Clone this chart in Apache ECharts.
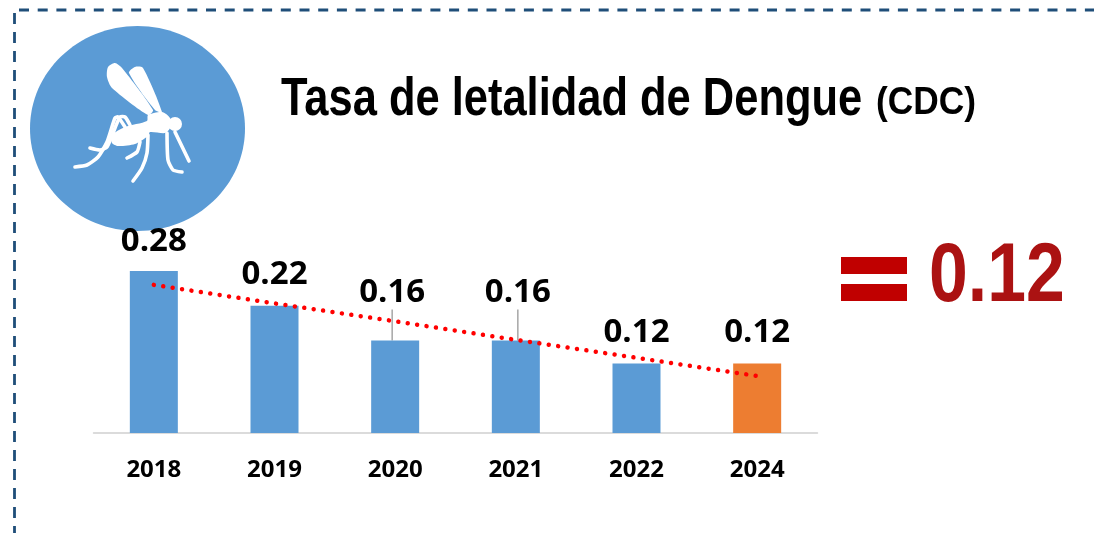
<!DOCTYPE html>
<html>
<head>
<meta charset="utf-8">
<style>html,body{margin:0;padding:0;background:#fff}#main{width:1094px;height:533px}</style>
<script src="https://cdn.jsdelivr.net/npm/echarts@6/dist/echarts.min.js"></script>
</head>
<body>
<div id="main"></div>
<script>
var years = ['2018', '2019', '2020', '2021', '2022', '2024'];
var tasa = [0.28, 0.22, 0.16, 0.16, 0.12, 0.12];
var tendencia = [0.256, 0.224, 0.193, 0.161, 0.130, 0.0985];
var labelLift = [0, 2, 18, 18, 1, 1]; // 2020 y 2021 llevan la etiqueta separada con guia
var labelShift = [0, 0, -3, 2, 0, 0];
var titulo = 'Tasa de letalidad de Dengue';
var fuente = '(CDC)';
var resumen = '0.12';

var borde = '#1f4e79';
var alaGrande = [[107, 77], [108, 67], [115, 63], [122, 68], [153, 110], [148, 115], [112, 88]];
var alaChica = [[129, 73], [135, 67], [143, 68], [162, 112], [155, 110]];
var cuerpo = [[148, 115], [162, 112], [170, 118], [170, 128], [165, 133], [150, 132], [148, 136], [135, 144], [118, 146], [112, 143], [112, 135], [125, 127], [147, 121]];
var patas = [
	[[75, 167], [87, 165], [98, 157], [107, 142], [115, 118], [118, 117], [125, 127]],
	[[90, 148], [100, 150], [107, 147], [115, 128], [120, 117], [125, 117], [130, 125]],
	[[127, 158], [137, 152], [140, 142]],
	[[133, 181], [142, 168], [147, 153], [148, 135]],
	[[182, 172], [173, 170], [168, 160], [167, 133]],
	[[175, 132], [189, 161]]
];

var chart = echarts.init(document.getElementById('main'));

var graphics = [
	{ type: 'line', shape: { x1: 19, y1: 10, x2: 1094, y2: 10 }, style: { stroke: borde, lineWidth: 2.8, lineDash: [10, 8.7] } },
	{ type: 'line', shape: { x1: 14.5, y1: 13, x2: 14.5, y2: 533 }, style: { stroke: borde, lineWidth: 2.8, lineDash: [11, 8] } },
	{ type: 'ellipse', shape: { cx: 137.5, cy: 128.5, rx: 107.5, ry: 102.5 }, style: { fill: '#5b9bd5' } },
	{ type: 'polygon', shape: { points: alaGrande, smooth: 0.25 }, style: { fill: '#fff' }, z: 1 },
	{ type: 'polygon', shape: { points: alaChica, smooth: 0.25 }, style: { fill: '#fff' }, z: 1 },
	{ type: 'polygon', shape: { points: cuerpo, smooth: 0.25 }, style: { fill: '#fff' }, z: 1 },
	{ type: 'circle', shape: { cx: 175, cy: 124, r: 7 }, style: { fill: '#fff' }, z: 1 },
	{ type: 'rect', shape: { x: 841, y: 257, width: 66, height: 17 }, style: { fill: '#c00000' } },
	{ type: 'rect', shape: { x: 841, y: 284, width: 66, height: 17 }, style: { fill: '#c00000' } },
	{ type: 'text', x: 281, y: 100, scaleX: 0.82, style: { text: titulo, fill: '#000', font: 'bold 53px "Liberation Sans"', textVerticalAlign: 'middle' } },
	{ type: 'text', x: 876, y: 104, scaleX: 0.93, style: { text: fuente, fill: '#000', font: 'bold 38px "Liberation Sans"', textVerticalAlign: 'middle' } },
	{ type: 'text', x: 929, y: 278, scaleX: 0.83, style: { text: resumen, fill: '#ab1212', font: 'bold 84px "Liberation Sans"', textVerticalAlign: 'middle' } }
];
patas.forEach(function (pts) {
	graphics.push({ type: 'polyline', shape: { points: pts, smooth: 0.2 }, style: { fill: 'none', stroke: '#fff', lineWidth: 3.6, lineCap: 'round', lineJoin: 'round' }, z: 1 });
});

chart.setOption({
	animation: false,
	grid: { left: 93.5, width: 724, top: 259.4, height: 173.6 },
	xAxis: {
		type: 'category',
		data: years,
		axisLine: { lineStyle: { color: '#d0d0d0', width: 1.5 } },
		axisTick: { show: false },
		axisLabel: { margin: 25, color: '#000', fontFamily: 'Open Sans', fontWeight: 'bold', fontSize: 24 }
	},
	yAxis: { type: 'value', min: 0, max: 0.3, show: false },
	graphic: graphics,
	series: [{
		type: 'bar',
		barWidth: 48,
		data: tasa.map(function (v, i) {
			return {
				value: v,
				itemStyle: { color: i === tasa.length - 1 ? '#ed7d31' : '#5b9bd5' },
				labelLine: { show: labelLift[i] > 2 }
			};
		}),
		label: {
			show: true,
			position: 'top',
			distance: 7,
			padding: [0, 0, 6, 0],
			color: '#000',
			fontFamily: 'Open Sans',
			fontWeight: 'bold',
			fontSize: 33,
			formatter: function (p) { return p.value.toFixed(2); }
		},
		labelLine: { lineStyle: { color: '#a6a6a6', width: 1.5 } },
		labelLayout: function (p) { return { dx: labelShift[p.dataIndex], dy: -labelLift[p.dataIndex] }; }
	}, {
		type: 'line',
		data: tendencia,
		showSymbol: false,
		silent: true,
		z: 5,
		lineStyle: { color: '#ff0000', width: 4.5, cap: 'round', type: [0.01, 9.5] }
	}]
});
</script>
</body>
</html>
